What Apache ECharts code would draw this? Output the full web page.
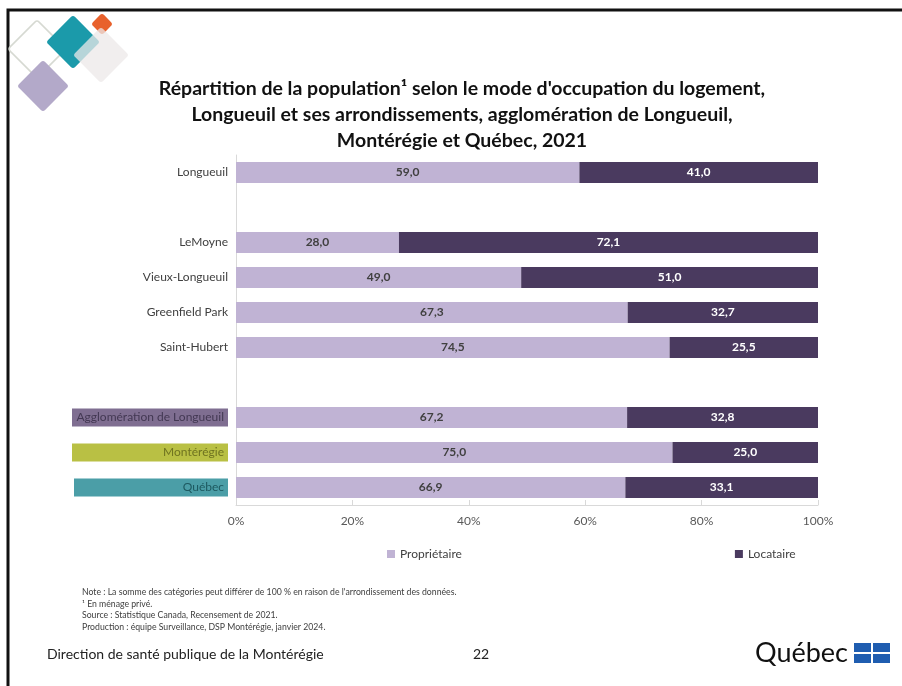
<!DOCTYPE html>
<html>
<head>
<meta charset="utf-8">
<script src="https://cdn.jsdelivr.net/npm/echarts@6/dist/echarts.min.js"></script>
<style>
  html, body { margin: 0; padding: 0; background: #fff; }
  #chart { width: 902px; height: 686px; }
</style>
</head>
<body>
<div id="chart"></div>
<script>
// categories (blank ones are the gaps between groups)
const categories = ['Longueuil', ' ', 'LeMoyne', 'Vieux-Longueuil', 'Greenfield Park', 'Saint-Hubert', '  ',
  'Agglomération de Longueuil', 'Montérégie', 'Québec'];
const proprietaire = [59.0, null, 28.0, 49.0, 67.3, 74.5, null, 67.2, 75.0, 66.9];
const locataire = [41.0, null, 72.1, 51.0, 32.7, 25.5, null, 32.8, 25.0, 33.1];
const seriesNames = ['Propriétaire', 'Locataire'];

const titleLines = [
  "Répartition de la population¹ selon le mode d'occupation du logement,",
  "Longueuil et ses arrondissements, agglomération de Longueuil,",
  "Montérégie et Québec, 2021"
];
const notes = [
  "Note : La somme des catégories peut différer de 100 % en raison de l'arrondissement des données.",
  "¹ En ménage privé.",
  "Source : Statistique Canada, Recensement de 2021.",
  "Production : équipe Surveillance, DSP Montérégie, janvier 2024."
];

const FONT = 'Lato, "Open Sans", sans-serif';
const fmt = v => v == null ? '' : v.toFixed(1).replace('.', ',');

const chart = echarts.init(document.getElementById('chart'));

function diamond(cx, cy, half, style) {
  const s = half * Math.SQRT2;
  return {
    type: 'rect', x: cx, y: cy, rotation: Math.PI / 4,
    shape: { x: -s / 2, y: -s / 2, width: s, height: s, r: 3 },
    style: style, silent: true
  };
}

const boxed = {
  'Agglomération de Longueuil': 'a',
  'Montérégie': 'm',
  'Québec': 'q'
};

const option = {
  backgroundColor: '#fff',
  animation: false,
  textStyle: { fontFamily: FONT },
  grid: { left: 236, right: 84, top: 155, bottom: 181, containLabel: false },
  legend: {
    data: seriesNames,
    left: 382, top: 543,
    itemWidth: 8, itemHeight: 8, itemGap: 273,
    icon: 'rect',
    textStyle: { fontFamily: FONT, fontSize: 12, color: '#404040' }
  },
  xAxis: {
    type: 'value', min: 0, max: 100, interval: 20,
    axisLine: { show: true, lineStyle: { color: '#d9d9d9' } },
    axisTick: { show: true, inside: true, length: 5, lineStyle: { color: '#d9d9d9' } },
    splitLine: { show: false },
    axisLabel: { formatter: '{value}%', color: '#595959', fontSize: 12, margin: 10, fontFamily: FONT }
  },
  yAxis: {
    type: 'category', data: categories, inverse: true,
    axisLine: { show: true, lineStyle: { color: '#d9d9d9' } },
    axisTick: { show: false },
    axisLabel: {
      color: '#404040', fontSize: 12, margin: 8, fontFamily: FONT,
      formatter: v => boxed[v] ? '{' + boxed[v] + '|' + v + '}' : v,
      rich: {
        a: { backgroundColor: '#7f6e91', color: '#433853', width: 148, align: 'right', padding: [3, 4], fontSize: 12, fontFamily: FONT },
        m: { backgroundColor: '#b9c044', color: '#6f7320', width: 148, align: 'right', padding: [3, 4], fontSize: 12, fontFamily: FONT },
        q: { backgroundColor: '#4b9ea7', color: '#1d5960', width: 146, align: 'right', padding: [3, 4], fontSize: 12, fontFamily: FONT }
      }
    }
  },
  series: [
    {
      name: seriesNames[0], type: 'bar', stack: 'total', data: proprietaire,
      barWidth: '60%',
      itemStyle: { color: '#c0b3d4' },
      label: { show: true, position: 'inside', formatter: p => fmt(p.value), color: '#404040', fontSize: 12, fontWeight: 'bold', fontFamily: FONT }
    },
    {
      name: seriesNames[1], type: 'bar', stack: 'total', data: locataire,
      barWidth: '60%',
      itemStyle: { color: '#4a3a5f' },
      label: { show: true, position: 'inside', formatter: p => fmt(p.value), color: '#ffffff', fontSize: 12, fontWeight: 'bold', fontFamily: FONT }
    }
  ],
  graphic: [
    // slide frame
    { type: 'rect', shape: { x: 8, y: 10, width: 1000, height: 800 }, style: { fill: 'none', stroke: '#111', lineWidth: 3 }, silent: true },
    // decoration
    diamond(37, 49, 29, { fill: 'none', stroke: '#d6d9d2', lineWidth: 1.5 }),
    diamond(73, 42, 27, { fill: '#1b9aaa' }),
    diamond(102, 24, 11, { fill: '#e8612c' }),
    diamond(101, 55, 28, { fill: 'rgba(236,232,232,0.75)' }),
    diamond(43, 86, 26, { fill: '#b3a9c9' }),
    // title
    {
      type: 'text', x: 462, y: 76,
      style: {
        text: titleLines.join('\n'), fontFamily: FONT, fontSize: 19.5, fontWeight: 'bold',
        fill: '#111', align: 'center', lineHeight: 26
      }
    },
    // notes
    {
      type: 'text', x: 82, y: 586,
      style: { text: notes.join('\n'), fontFamily: FONT, fontSize: 8.7, fill: '#404040', lineHeight: 11.8 }
    },
    // footer
    { type: 'text', x: 47, y: 647, style: { text: 'Direction de santé publique de la Montérégie', fontFamily: FONT, fontSize: 14, fill: '#222' } },
    { type: 'text', x: 473, y: 647, style: { text: '22', fontFamily: FONT, fontSize: 14, fill: '#222' } },
    { type: 'text', x: 755, y: 640, style: { text: 'Québec', fontFamily: FONT, fontSize: 27, fill: '#111' } },
    { type: 'rect', shape: { x: 854, y: 643, width: 17, height: 9 }, style: { fill: '#1f5db0' } },
    { type: 'rect', shape: { x: 873, y: 643, width: 17, height: 9 }, style: { fill: '#1f5db0' } },
    { type: 'rect', shape: { x: 854, y: 654, width: 17, height: 9 }, style: { fill: '#1f5db0' } },
    { type: 'rect', shape: { x: 873, y: 654, width: 17, height: 9 }, style: { fill: '#1f5db0' } }
  ]
};

chart.setOption(option);
</script>
</body>
</html>
